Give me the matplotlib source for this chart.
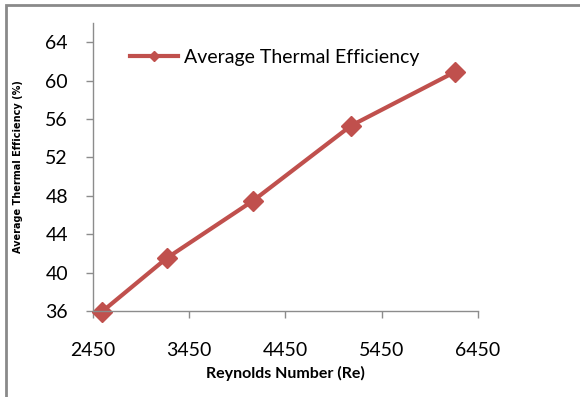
import matplotlib
matplotlib.use('Agg')
import matplotlib.pyplot as plt
from matplotlib.patches import Rectangle

# values
reynolds = [2540, 3215, 4115, 5130, 6210]
efficiency = [35.9, 41.5, 47.5, 55.3, 60.9]
x_ticks = [2450, 3450, 4450, 5450, 6450]
y_ticks = [36, 40, 44, 48, 52, 56, 60, 64]

red = '#C0504D'
grey = '#8C8C8C'
font = ['Lato', 'DejaVu Sans']

fig = plt.figure(figsize=(5.8, 3.97), dpi=100)
ax = fig.add_axes([93/580, 1 - 311/397, (478-93)/580, (311-23)/397])

ax.plot(reynolds, efficiency, color=red, lw=3, marker='D', ms=10,
        label='Average Thermal Efficiency', clip_on=False)

ax.set_xlim(2450, 6450)
ax.set_ylim(36, 66)
ax.set_xticks(x_ticks)
ax.set_yticks(y_ticks)
ax.set_xticklabels([str(v) for v in x_ticks], family=font, fontsize=14)
ax.set_yticklabels([str(v) for v in y_ticks], family=font, fontsize=14)
ax.tick_params(axis='both', color=grey, length=5, width=1)
ax.tick_params(axis='x', pad=17)
ax.tick_params(axis='y', pad=13)

for s in ['top', 'right']:
    ax.spines[s].set_visible(False)
for s in ['left', 'bottom']:
    ax.spines[s].set_color(grey)
    ax.spines[s].set_linewidth(1)

ax.set_xlabel('Reynolds Number (Re)', family=font, fontsize=11.5, fontweight='bold', labelpad=5)
ax.set_ylabel('Average Thermal Efficiency (%)',
              family=['Liberation Sans Narrow', 'DejaVu Sans'],
              fontsize=7, fontweight='bold', labelpad=16)

leg = ax.legend(loc='upper left', bbox_to_anchor=(0.05, 0.97), frameon=False,
                prop={'family': font, 'size': 14}, handlelength=2.5,
                markerscale=0.5, handletextpad=0.3)

# outer chart border
fig.patches.append(Rectangle((6/580, -0.1), 1.2, 1 - 5/397 + 0.1,
                             transform=fig.transFigure, fill=False,
                             edgecolor='#8A8A8A', lw=2))

fig.savefig('out.png', dpi=100)
plt.close(fig)
